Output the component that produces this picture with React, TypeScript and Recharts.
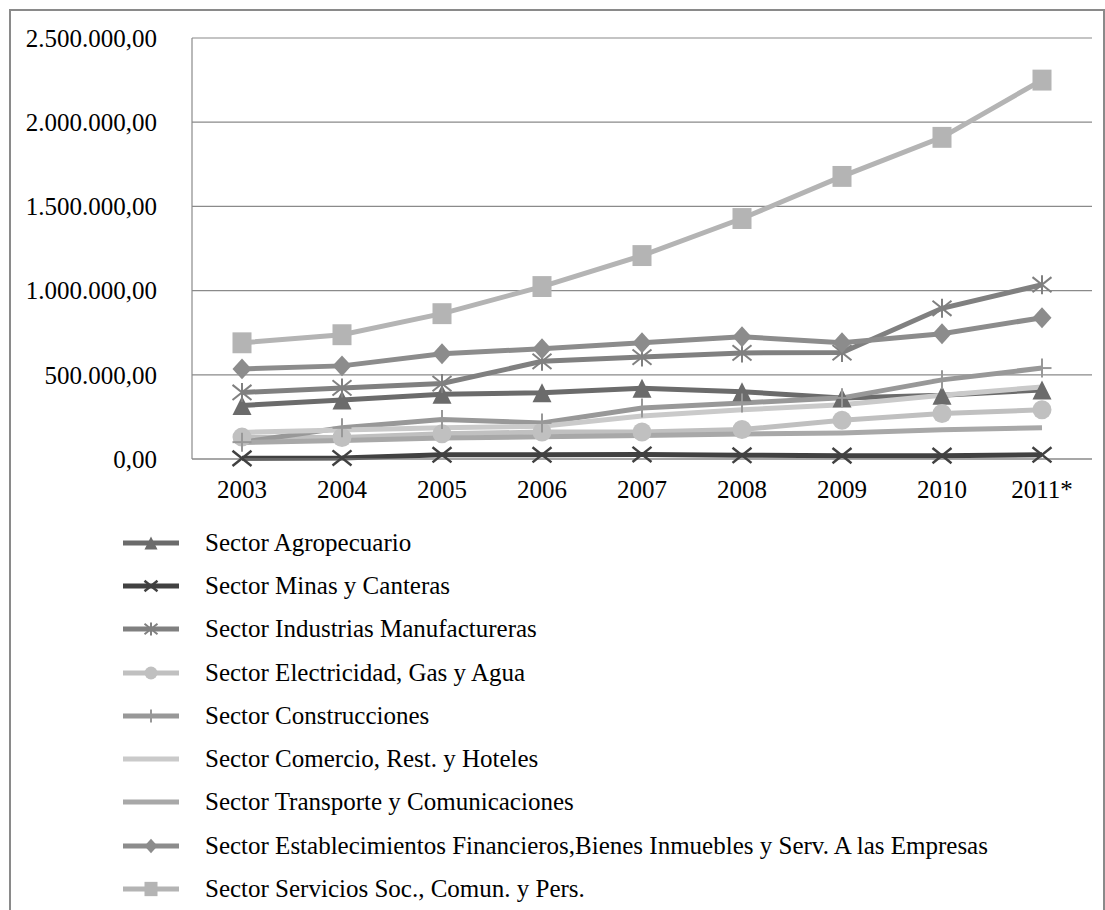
import React from 'react';
import { LineChart, Line, XAxis, YAxis, CartesianGrid, Legend } from 'recharts';

const years = ['2003', '2004', '2005', '2006', '2007', '2008', '2009', '2010', '2011*'];

const agropecuario = [318000, 350000, 385000, 393000, 420000, 400000, 362000, 378000, 410000];
const minas = [4000, 6000, 25000, 25000, 27000, 22000, 20000, 20000, 25000];
const industrias = [395000, 422000, 448000, 580000, 605000, 630000, 632000, 895000, 1035000];
const electricidad = [130000, 128000, 150000, 160000, 160000, 175000, 230000, 270000, 292000];
const construcciones = [100000, 185000, 235000, 214000, 303000, 333000, 363000, 470000, 540000];
const comercio = [158000, 172000, 185000, 195000, 255000, 292000, 322000, 378000, 428000];
const transporte = [98000, 110000, 125000, 132000, 140000, 148000, 155000, 173000, 185000];
const financieros = [535000, 553000, 625000, 655000, 690000, 726000, 690000, 744000, 839000];
const servicios = [690000, 738000, 863000, 1024000, 1208000, 1428000, 1678000, 1910000, 2250000];

const yTicks = [0, 500000, 1000000, 1500000, 2000000, 2500000];

type Shape = 'triangle' | 'x' | 'asterisk' | 'circle' | 'plus' | 'none' | 'diamond' | 'square';

const series: { key: string; name: string; values: number[]; color: string; shape: Shape }[] = [
  { key: 'agro', name: 'Sector Agropecuario', values: agropecuario, color: '#6b6b6b', shape: 'triangle' },
  { key: 'minas', name: 'Sector Minas y Canteras', values: minas, color: '#414141', shape: 'x' },
  { key: 'ind', name: 'Sector Industrias Manufactureras', values: industrias, color: '#808080', shape: 'asterisk' },
  { key: 'elec', name: 'Sector Electricidad, Gas y Agua', values: electricidad, color: '#c0c0c0', shape: 'circle' },
  { key: 'cons', name: 'Sector Construcciones', values: construcciones, color: '#989898', shape: 'plus' },
  { key: 'com', name: 'Sector Comercio, Rest. y Hoteles', values: comercio, color: '#cacaca', shape: 'none' },
  { key: 'trans', name: 'Sector Transporte y Comunicaciones', values: transporte, color: '#a8a8a8', shape: 'none' },
  { key: 'fin', name: 'Sector Establecimientos Financieros,Bienes Inmuebles y Serv. A las Empresas', values: financieros, color: '#8c8c8c', shape: 'diamond' },
  { key: 'serv', name: 'Sector Servicios Soc., Comun. y Pers.', values: servicios, color: '#b4b4b4', shape: 'square' },
];

const data = years.map((year, i) => {
  const row: Record<string, string | number> = { year };
  series.forEach((s) => {
    row[s.key] = s.values[i];
  });
  return row;
});

const fontFamily = '"Liberation Serif", "Times New Roman", serif';

const fmt = (v: number) => Math.round(v).toString().replace(/\B(?=(\d{3})+(?!\d))/g, '.') + ',00';

function Marker({ shape, cx, cy, color, s }: { shape: Shape; cx: number; cy: number; color: string; s: number }) {
  const h = s / 2;
  switch (shape) {
    case 'triangle':
      return <polygon points={`${cx},${cy - h} ${cx + h},${cy + h} ${cx - h},${cy + h}`} fill={color} />;
    case 'x':
      return (
        <g stroke={color} strokeWidth={2.5}>
          <line x1={cx - h} y1={cy - h * 0.8} x2={cx + h} y2={cy + h * 0.8} />
          <line x1={cx - h} y1={cy + h * 0.8} x2={cx + h} y2={cy - h * 0.8} />
        </g>
      );
    case 'asterisk':
      return (
        <g stroke={color} strokeWidth={2}>
          <line x1={cx - h} y1={cy - h * 0.8} x2={cx + h} y2={cy + h * 0.8} />
          <line x1={cx - h} y1={cy + h * 0.8} x2={cx + h} y2={cy - h * 0.8} />
          <line x1={cx} y1={cy - h} x2={cx} y2={cy + h} />
        </g>
      );
    case 'circle':
      return <circle cx={cx} cy={cy} r={h} fill={color} />;
    case 'plus':
      return (
        <g stroke={color} strokeWidth={2}>
          <line x1={cx} y1={cy - h} x2={cx} y2={cy + h} />
          <line x1={cx - h} y1={cy} x2={cx + h} y2={cy} />
        </g>
      );
    case 'diamond':
      return <polygon points={`${cx},${cy - h * 1.1} ${cx + h},${cy} ${cx},${cy + h * 1.1} ${cx - h},${cy}`} fill={color} />;
    case 'square':
      return <rect x={cx - h} y={cy - h * 1.1} width={s} height={s * 1.1} fill={color} />;
    default:
      return null;
  }
}

const renderLegend = () => (
  <div style={{ fontFamily, fontSize: 25, color: '#000' }}>
    {series.map((s) => (
      <div key={s.key} style={{ display: 'flex', alignItems: 'center', height: 43.3 }}>
        <svg width={56} height={24} style={{ flex: 'none' }}>
          <line x1={0} y1={12} x2={56} y2={12} stroke={s.color} strokeWidth={5} />
          <Marker shape={s.shape} cx={28} cy={12} color={s.color} s={13} />
        </svg>
        <span style={{ marginLeft: 26, whiteSpace: 'nowrap' }}>{s.name}</span>
      </div>
    ))}
  </div>
);

export default function App() {
  return (
    <div style={{ position: 'absolute', left: 0, top: 0, width: 1105, height: 910, overflow: 'hidden', background: '#fff' }}>
      <div
        style={{
          position: 'absolute',
          left: 9,
          top: 9,
          width: 1092,
          height: 940,
          border: '2px solid #8a8a8a',
        }}
      />
      <LineChart
        width={1105}
        height={910}
        data={data}
        margin={{ top: 38, right: 13, bottom: 391, left: 0 }}
        style={{ position: 'absolute', left: 0, top: 0 }}
      >
        <CartesianGrid vertical={false} stroke="#8a8a8a" strokeWidth={1.2} />
        <XAxis
          dataKey="year"
          height={60}
          padding={{ left: 50, right: 50 }}
          tickLine={false}
          tickSize={0}
          tickMargin={21}
          axisLine={{ stroke: '#8a8a8a', strokeWidth: 1.2 }}
          tick={{ fill: '#000', fontFamily, fontSize: 25 }}
        />
        <YAxis
          width={192}
          domain={[0, 2500000]}
          ticks={yTicks}
          tickFormatter={fmt}
          tickLine={false}
          tickSize={0}
          tickMargin={35}
          axisLine={{ stroke: '#8a8a8a', strokeWidth: 1.2 }}
          tick={{ fill: '#000', fontFamily, fontSize: 25 }}
        />
        <Legend
          layout="vertical"
          align="center"
          verticalAlign="middle"
          content={renderLegend}
          wrapperStyle={{ left: 123, top: 521, width: 980, height: 390 }}
        />
        {series.map((s) => (
          <Line
            key={s.key}
            dataKey={s.key}
            name={s.name}
            stroke={s.color}
            strokeWidth={5}
            isAnimationActive={false}
            dot={
              s.shape === 'none'
                ? false
                : (p: any) => <Marker key={`${s.key}-${p.index}`} shape={s.shape} cx={p.cx} cy={p.cy} color={s.color} s={19} />
            }
            activeDot={false}
          />
        ))}
      </LineChart>
    </div>
  );
}
